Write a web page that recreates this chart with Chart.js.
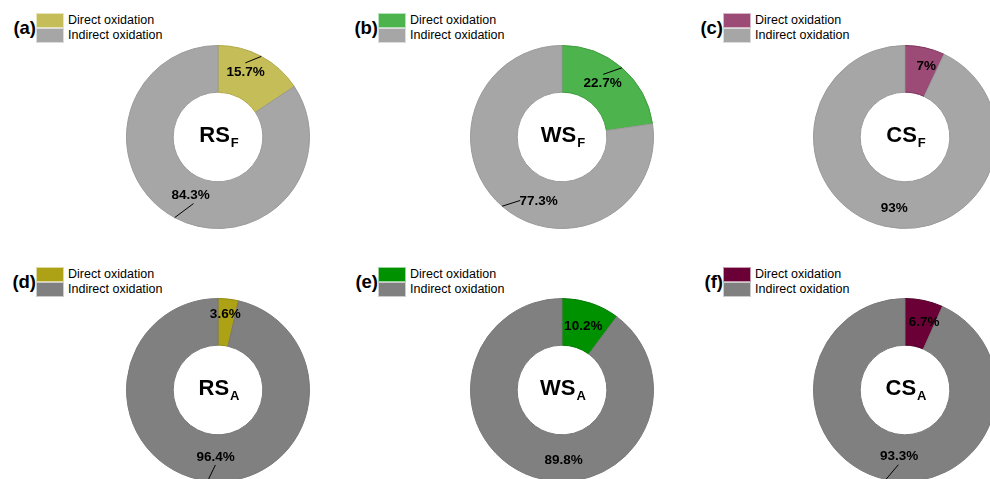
<!DOCTYPE html>
<html>
<head>
<meta charset="utf-8">
<script src="https://cdn.jsdelivr.net/npm/chart.js@4"></script>
<style>
  html, body { margin:0; padding:0; background:#fff; }
  body { width:990px; height:479px; position:relative; overflow:hidden; font-family:'Liberation Sans', Arial, sans-serif; }
  canvas.donut { position:absolute; }
  .plabel { position:absolute; font-weight:bold; font-size:18.5px; color:#000; line-height:18px; text-align:right; width:40px; }
  .lbox { position:absolute; width:28px; height:15px; box-sizing:border-box; border:1px solid rgba(255,255,255,0.6); }
  .ltext { position:absolute; font-size:12.5px; color:#000; line-height:15px; white-space:nowrap; }
</style>
</head>
<body>
<script>
// ---- data ----
const panelTags   = ['(a)', '(b)', '(c)', '(d)', '(e)', '(f)'];
const centerMain  = ['RS', 'WS', 'CS', 'RS', 'WS', 'CS'];
const centerSub   = ['F', 'F', 'F', 'A', 'A', 'A'];
const seriesNames = ['Direct oxidation', 'Indirect oxidation'];
const directPct   = [15.7, 22.7, 7, 3.6, 10.2, 6.7];
const indirectPct = [84.3, 77.3, 93, 96.4, 89.8, 93.3];

// ---- styles ----
const directColors   = ['#c5bd57', '#4db34d', '#9c4a76', '#ada215', '#009100', '#6b0036'];
const directBorders  = ['#b0a844', '#3f9c3f', '#7e2f5a', '#938a0e', '#007a00', '#55002a'];
const indirectColors = ['#a6a6a6', '#a6a6a6', '#a6a6a6', '#808080', '#808080', '#808080'];
const indirectBorders= ['#9a9a9a', '#9a9a9a', '#9a9a9a', '#787878', '#787878', '#787878'];
// canvas top-left corners (each canvas 184x184)
const canvasPos = [[126, 45], [470, 45], [813, 45], [126, 298], [470, 298], [813, 298]];
// legend anchors: box left x, top y
const legendPos = [[36, 13], [378, 13], [723, 13], [36, 267], [378, 267], [723, 267]];
// value label placement relative to slice mid-angle (deg offset, radius) + optional leader
const labelStyle = [
  [{d:-5, r:70, lead:{d:-8, r:79}}, {d:-3, r:64, lead:{d:-8, r:71}}],
  [{d:-3.5, r:67, lead:{d:-7.5, r:75}}, {d:-20.7, r:68, lead:{d:-7.5, r:76}}],
  [{d:4, r:74}, {d:-4, r:72}],
  [{d:-1, r:76}, {d:-4.5, r:67, lead:{d:-4.5, r:75}}],
  [{d:0, r:67.5}, {d:-19.6, r:70}],
  [{d:3.6, r:70.6}, {d:-7, r:67, lead:{d:-7, r:75}}]
];

const FONT = "'Liberation Sans', Arial, sans-serif";

const annotPlugin = {
  id: 'annot',
  afterDatasetsDraw(chart, args, opts) {
    const ctx = chart.ctx;
    const meta = chart.getDatasetMeta(0);
    const idx = opts.panel;
    const vals = chart.data.datasets[0].data;
    ctx.save();
    meta.data.forEach((arc, i) => {
      const p = arc.getProps(['x', 'y', 'startAngle', 'endAngle', 'outerRadius', 'innerRadius'], true);
      const mid = (p.startAngle + p.endAngle) / 2;
      const st = labelStyle[idx][i];
      const a = mid + st.d * Math.PI / 180;
      const lx = p.x + st.r * Math.cos(a);
      const ly = p.y + st.r * Math.sin(a);
      if (st.lead) {
        const a2 = mid + st.lead.d * Math.PI / 180;
        ctx.beginPath();
        ctx.moveTo(p.x + p.outerRadius * Math.cos(mid), p.y + p.outerRadius * Math.sin(mid));
        ctx.lineTo(p.x + st.lead.r * Math.cos(a2), p.y + st.lead.r * Math.sin(a2));
        ctx.strokeStyle = '#000';
        ctx.lineWidth = 1;
        ctx.stroke();
      }
      ctx.fillStyle = '#000';
      ctx.font = 'bold 13.5px ' + FONT;
      ctx.textAlign = 'center';
      ctx.textBaseline = 'middle';
      ctx.fillText(vals[i] + '%', lx, ly);
    });
    // center text with subscript
    const c = meta.data[0];
    const cx = c.x, cy = c.y;
    ctx.font = 'bold 22px ' + FONT;
    const w1 = ctx.measureText(centerMain[idx]).width;
    ctx.font = 'bold 13px ' + FONT;
    const w2 = ctx.measureText(centerSub[idx]).width;
    const x0 = cx - (w1 + w2 + 1) / 2 + 1;
    ctx.textAlign = 'left';
    ctx.textBaseline = 'alphabetic';
    ctx.font = 'bold 22px ' + FONT;
    ctx.fillText(centerMain[idx], x0, cy + 5);
    ctx.font = 'bold 13px ' + FONT;
    ctx.fillText(centerSub[idx], x0 + w1 + 1, cy + 9.5);
    ctx.restore();
  }
};

for (let i = 0; i < 6; i++) {
  // legend
  const [bx, by] = legendPos[i];
  const tag = document.createElement('div');
  tag.className = 'plabel';
  tag.textContent = panelTags[i];
  tag.style.left = (bx - 40) + 'px';
  tag.style.top = (by + 6) + 'px';
  document.body.appendChild(tag);
  const boxCols = [directColors[i], indirectColors[i]];
  for (let k = 0; k < 2; k++) {
    const b = document.createElement('div');
    b.className = 'lbox';
    b.style.left = bx + 'px';
    b.style.top = (by + k * 15) + 'px';
    b.style.background = boxCols[k];
    document.body.appendChild(b);
    const t = document.createElement('div');
    t.className = 'ltext';
    t.textContent = seriesNames[k];
    t.style.left = (bx + 32) + 'px';
    t.style.top = (by + k * 15) + 'px';
    document.body.appendChild(t);
  }
  // donut
  const cv = document.createElement('canvas');
  cv.className = 'donut';
  cv.width = 184; cv.height = 184;
  cv.style.left = canvasPos[i][0] + 'px';
  cv.style.top = canvasPos[i][1] + 'px';
  cv.style.width = '184px'; cv.style.height = '184px';
  document.body.appendChild(cv);
  new Chart(cv.getContext('2d'), {
    type: 'doughnut',
    data: {
      labels: seriesNames,
      datasets: [{
        data: [directPct[i], indirectPct[i]],
        backgroundColor: [directColors[i], indirectColors[i]],
        borderColor: [directBorders[i], indirectBorders[i]],
        borderWidth: 1,
        hoverOffset: 0
      }]
    },
    options: {
      responsive: false,
      maintainAspectRatio: false,
      animation: false,
      events: [],
      cutout: '49%',
      layout: { padding: 0 },
      plugins: { legend: { display: false }, tooltip: { enabled: false }, annot: { panel: i } }
    },
    plugins: [annotPlugin]
  });
}
</script>
</body>
</html>
